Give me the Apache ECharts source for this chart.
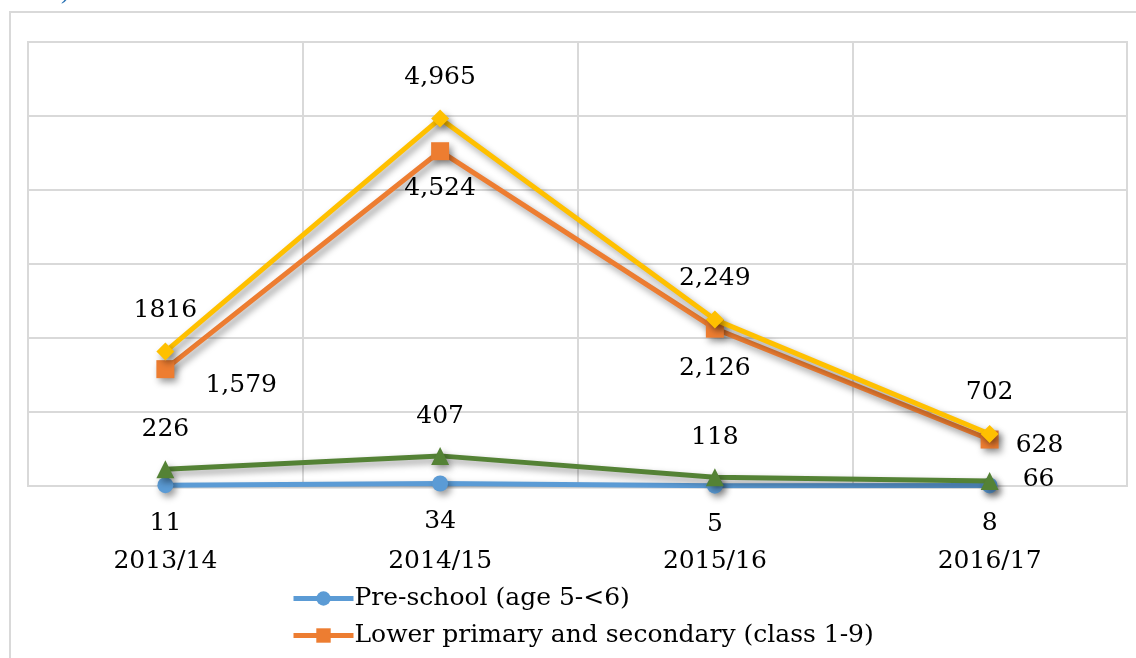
<!DOCTYPE html>
<html>
<head>
<meta charset="utf-8">
<script src="https://cdn.jsdelivr.net/npm/echarts@6/dist/echarts.min.js"></script>
<style>
  html, body { margin: 0; padding: 0; background: #fff; }
  #chart { width: 1136px; height: 658px; }
</style>
</head>
<body>
<div id="chart"></div>
<script>
// School years on the category axis
const years = ['2013/14', '2014/15', '2015/16', '2016/17'];

// Enrolment counts per level
const preSchool = [11, 34, 5, 8];
const lowerPrimarySecondary = [1579, 4524, 2126, 628];
const upperSecondary = [226, 407, 118, 66];
const total = [1816, 4965, 2249, 702];

const seriesNames = [
  'Pre-school (age 5-<6)',
  'Lower primary and secondary (class 1-9)',
  'Secondary (class 10-12)',
  'Total'
];

const FONT = 'DejaVu Serif';
const shadow = {
  shadowColor: 'rgba(0,0,0,0.4)',
  shadowBlur: 7,
  shadowOffsetX: 3,
  shadowOffsetY: 4
};

function lineSeries(name, data, color, symbol, size, label, z) {
  return {
    name: name,
    type: 'line',
    data: data,
    symbol: symbol,
    symbolSize: size,
    z: z,
    lineStyle: Object.assign({ color: color, width: 5 }, shadow),
    itemStyle: Object.assign({ color: color }, shadow),
    label: Object.assign({
      show: true,
      color: '#000',
      fontFamily: FONT,
      fontSize: 25,
      formatter: p => p.value.toLocaleString('en-US')
    }, label),
    emphasis: { disabled: true },
    animation: false
  };
}

const chart = echarts.init(document.getElementById('chart'));

const orangeData = lowerPrimarySecondary.map((v, i) => {
  const pos = [
    { position: 'right', offset: [26, 16] },
    { position: 'bottom', distance: 16 },
    { position: 'bottom', distance: 18 },
    { position: 'right', offset: [12, 6] }
  ][i];
  return { value: v, label: pos };
});

const greenData = upperSecondary.map((v, i) => {
  if (i === 3) return { value: v, label: { position: 'right', offset: [6, -2] } };
  return v;
});

// The first total is printed without a thousands separator
const totalData = total.map((v, i) => {
  if (i === 0) return { value: v, label: { formatter: '{c}' } };
  return v;
});

chart.setOption({
  backgroundColor: '#fff',
  textStyle: { fontFamily: FONT },
  grid: {
    left: 28, right: 9, top: 42, bottom: 172,
    show: true, borderColor: '#d9d9d9', borderWidth: 2
  },
  legend: {
    orient: 'vertical',
    left: 286,
    top: 581,
    height: 400,
    itemWidth: 60,
    itemHeight: 18,
    itemGap: 12,
    data: seriesNames,
    lineStyle: { width: 5 },
    textStyle: { fontFamily: FONT, fontSize: 25, color: '#000', padding: [0, 0, 0, -4] }
  },
  xAxis: {
    type: 'category',
    data: years,
    boundaryGap: true,
    axisLine: { show: true, lineStyle: { color: '#d9d9d9', width: 2 } },
    axisTick: { show: false },
    axisLabel: {
      margin: 63,
      color: '#000',
      fontFamily: FONT,
      fontSize: 25
    },
    splitLine: { show: true, lineStyle: { color: '#d9d9d9', width: 2 } }
  },
  yAxis: {
    type: 'value',
    min: 0,
    max: 6000,
    interval: 1000,
    axisLabel: { show: false },
    axisLine: { show: false },
    axisTick: { show: false },
    splitLine: { lineStyle: { color: '#d9d9d9', width: 2 } }
  },
  graphic: [
    {
      type: 'rect',
      shape: { x: 10, y: 12, width: 1200, height: 700 },
      style: { fill: 'none', stroke: '#d9d9d9', lineWidth: 2 },
      silent: true,
      z: -1
    },
    {
      type: 'text',
      left: 62,
      top: -18,
      style: { text: ')', fill: '#2E75B6', font: 'italic 24px "DejaVu Serif"' },
      silent: true
    }
  ],
  series: [
    lineSeries(seriesNames[0], preSchool, '#5B9BD5', 'circle', 16,
      { position: 'bottom', distance: 18 }, 2),
    lineSeries(seriesNames[1], orangeData, '#ED7D31', 'rect', 18,
      {}, 3),
    lineSeries(seriesNames[2], greenData, '#548235', 'triangle', 18,
      { position: 'top', distance: 18 }, 4),
    lineSeries(seriesNames[3], totalData, '#FFC000', 'diamond', 18,
      { position: 'top', distance: 20 }, 5)
  ]
});
</script>
</body>
</html>
